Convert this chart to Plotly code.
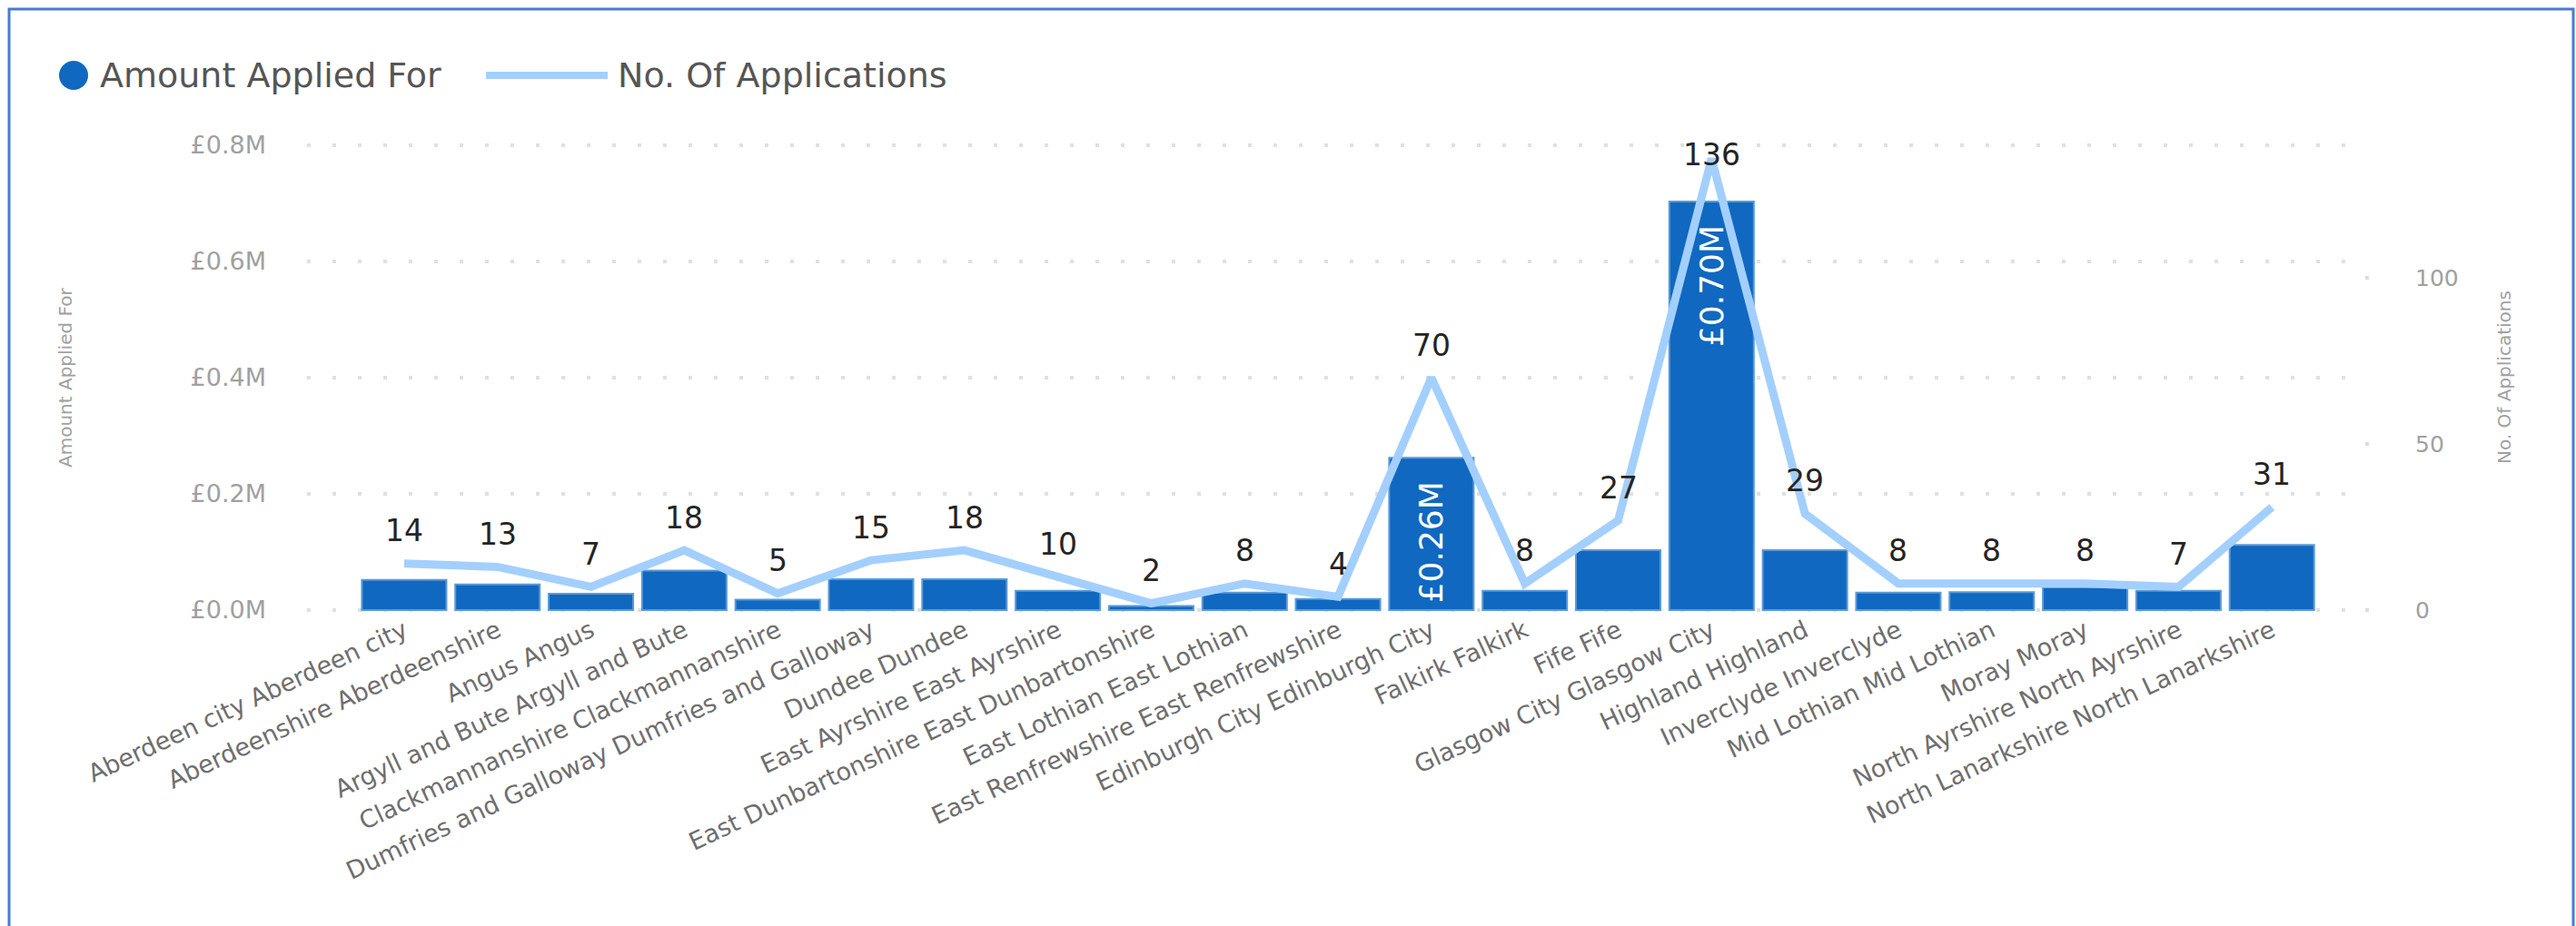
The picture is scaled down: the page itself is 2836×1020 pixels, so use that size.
import plotly.graph_objects as go

# ---- data -------------------------------------------------------------
authorities = [
    "Aberdeen city Aberdeen city",
    "Aberdeenshire Aberdeenshire",
    "Angus Angus",
    "Argyll and Bute Argyll and Bute",
    "Clackmannanshire Clackmannanshire",
    "Dumfries and Galloway Dumfries and Galloway",
    "Dundee Dundee",
    "East Ayrshire East Ayrshire",
    "East Dunbartonshire East Dunbartonshire",
    "East Lothian East Lothian",
    "East Renfrewshire East Renfrewshire",
    "Edinburgh City Edinburgh City",
    "Falkirk Falkirk",
    "Fife Fife",
    "Glasgow City Glasgow City",
    "Highland Highland",
    "Inverclyde Inverclyde",
    "Mid Lothian Mid Lothian",
    "Moray Moray",
    "North Ayrshire North Ayrshire",
    "North Lanarkshire North Lanarkshire",
]

# amount applied for, in pounds
amount_applied = [
    52000, 44000, 28000, 68000, 18000, 53000, 53000, 33000, 7000, 30000,
    19000, 262000, 33000, 103000, 703000, 103000, 30000, 31000, 39000,
    33000, 112000,
]

# number of applications
applications = [14, 13, 7, 18, 5, 15, 18, 10, 2, 8, 4, 70, 8, 27, 136, 29, 8, 8, 8, 7, 31]

amount_ticks = [0, 200000, 400000, 600000, 800000]
count_ticks = [0, 50, 100]

# ---- styling ----------------------------------------------------------
FONT = "DejaVu Sans"
BAR_BLUE = "#1068C0"
BAR_EDGE = "#5B9AD8"
LINE_BLUE = "#A3CFFF"
GRID = "#E0E0E0"
AXIS_GREY = "#A0A0A0"
LABEL_GREY = "#6E6E6E"

W, H = 2836, 1020
PLOT_L, PLOT_R, PLOT_T, PLOT_B = 338, 2603, 159, 673
AMOUNT_MAX = 800000
COUNT_MAX = 140
EDGE_PAD = 0.002          # keeps the first/last grid rows inside the plot
LABEL_LIFT = 36           # px between a point and its count label
BAR_LABEL_MIN = 200000    # bars shorter than this get no inside label


def px_x(px):
    return (px - PLOT_L) / (PLOT_R - PLOT_L)


def px_y(py):
    return (PLOT_B - py) / (PLOT_B - PLOT_T)


def money(v):
    return f"£{v / 1e6:.2f}M"


fig = go.Figure()

fig.add_trace(go.Bar(
    x=authorities,
    y=amount_applied,
    name="Amount Applied For",
    marker=dict(color=BAR_BLUE, line=dict(color=BAR_EDGE, width=2)),
    text=[money(v) + "\u00a0\u00a0" if v >= BAR_LABEL_MIN else "" for v in amount_applied],
    textposition="inside",
    insidetextanchor="end",
    textangle=-90,
    textfont=dict(family=FONT, size=36, color="white"),
    showlegend=False,
))

fig.add_trace(go.Scatter(
    x=authorities,
    y=applications,
    yaxis="y2",
    name="No. Of Applications",
    mode="lines",
    line=dict(color=LINE_BLUE, width=9),
    cliponaxis=False,
    showlegend=False,
))

# count labels above the line, kept inside the plot area at the top
px_per_count = (PLOT_B - PLOT_T) / COUNT_MAX
annotations = []
for name, n in zip(authorities, applications):
    lift = min(LABEL_LIFT, (COUNT_MAX - n) * px_per_count - 11)
    annotations.append(dict(
        x=name, y=n, xref="x", yref="y2", text=str(n), showarrow=False,
        yshift=lift, font=dict(family=FONT, size=33, color="#252423"),
    ))

# legend
annotations += [
    dict(x=px_x(108), y=px_y(83), xref="paper", yref="paper", xanchor="left",
         yanchor="middle", text="Amount Applied For", showarrow=False,
         font=dict(family=FONT, size=38, color="#555555")),
    dict(x=px_x(678), y=px_y(83), xref="paper", yref="paper", xanchor="left",
         yanchor="middle", text="No. Of Applications", showarrow=False,
         font=dict(family=FONT, size=38, color="#555555")),
    # axis titles
    dict(x=px_x(72), y=0.5, xref="paper", yref="paper", textangle=-90,
         xanchor="center", yanchor="middle",
         text="Amount Applied For", showarrow=False,
         font=dict(family=FONT, size=20, color=AXIS_GREY)),
    dict(x=px_x(2757), y=0.5, xref="paper", yref="paper", textangle=-90,
         xanchor="center", yanchor="middle",
         text="No. Of Applications", showarrow=False,
         font=dict(family=FONT, size=20, color=AXIS_GREY)),
]

shapes = [
    dict(type="circle", xref="paper", yref="paper",
         x0=px_x(65), x1=px_x(97), y0=px_y(99), y1=px_y(67),
         fillcolor=BAR_BLUE, line=dict(width=0)),
    dict(type="line", xref="paper", yref="paper",
         x0=px_x(535), x1=px_x(669), y0=px_y(83), y1=px_y(83),
         line=dict(color=LINE_BLUE, width=8)),
    # visual frame
    dict(type="rect", xref="paper", yref="paper",
         x0=px_x(10), x1=px_x(2833), y0=px_y(1060), y1=px_y(10),
         line=dict(color="#4A7BD0", width=3)),
]

fig.update_layout(
    width=W, height=H,
    margin=dict(l=PLOT_L, r=W - PLOT_R, t=PLOT_T, b=H - PLOT_B),
    paper_bgcolor="white", plot_bgcolor="white",
    bargap=0.095,
    showlegend=False,
    font=dict(family=FONT),
    annotations=annotations,
    shapes=shapes,
    xaxis=dict(
        type="category",
        range=[-1.04, 20.99],
        tickangle=-25,
        tickfont=dict(family=FONT, size=27, color=LABEL_GREY),
        showgrid=False, showline=False, zeroline=False, ticks="",
    ),
    yaxis=dict(
        range=[-AMOUNT_MAX * EDGE_PAD, AMOUNT_MAX * (1 + EDGE_PAD)],
        tickvals=amount_ticks,
        ticktext=[f"£{v / 1e6:.1f}M" for v in amount_ticks],
        tickfont=dict(family=FONT, size=27, color=AXIS_GREY),
        showgrid=True, gridcolor=GRID, gridwidth=4, griddash="4px,24px",
        zeroline=False, showline=False, ticks="",
        ticklabelstandoff=44,
    ),
    yaxis2=dict(
        overlaying="y", side="right",
        range=[-COUNT_MAX * EDGE_PAD, COUNT_MAX * (1 + EDGE_PAD)],
        tickvals=count_ticks,
        tickfont=dict(family=FONT, size=25, color=AXIS_GREY),
        showgrid=False, zeroline=False, showline=False,
        ticks="outside", ticklen=4, tickwidth=4, tickcolor="#DCDCDC",
        ticklabelstandoff=46,
    ),
)

fig.write_html("out.html")
